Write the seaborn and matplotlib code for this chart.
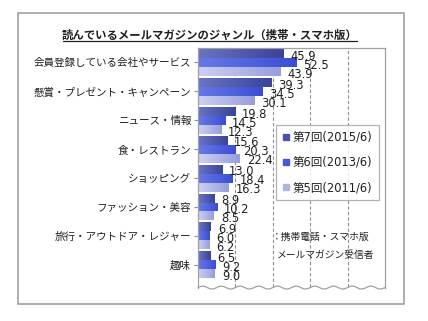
import numpy as np
import pandas as pd
import matplotlib
matplotlib.use("Agg")
import matplotlib.pyplot as plt
import seaborn as sns
from matplotlib.patches import Rectangle
from matplotlib.lines import Line2D
from matplotlib.colors import LinearSegmentedColormap

genres = ["会員登録している会社やサービス", "懸賞・プレゼント・キャンペーン", "ニュース・情報",
          "食・レストラン", "ショッピング", "ファッション・美容", "旅行・アウトドア・レジャー", "趣味"]
waves = ["第7回(2015/6)", "第6回(2013/6)", "第5回(2011/6)"]
v2015 = [45.9, 39.3, 19.8, 15.6, 13.0, 8.9, 6.9, 6.5]
v2013 = [52.5, 34.5, 14.5, 20.3, 18.4, 10.2, 6.0, 9.2]
v2011 = [43.9, 30.1, 12.3, 22.4, 16.3, 8.5, 6.2, 9.0]

title = "読んでいるメールマガジンのジャンル（携帯・スマホ版）"
note1 = "：携帯電話・スマホ版"
note2 = "メールマガジン受信者"

colors = ["#4a54a8", "#4659d8", "#aeb4e4"]
grad = [("#6a74c4", "#3a4498"), ("#6878e6", "#3a4ed6"), ("#cdd1f2", "#979edb")]

df = pd.DataFrame({
    "genre": genres * 3,
    "wave": [waves[0]] * 8 + [waves[1]] * 8 + [waves[2]] * 8,
    "value": v2015 + v2013 + v2011,
})

sns.set_style("white")
plt.rcParams["font.family"] = ["DejaVu Sans", "Noto Sans CJK JP"]

fig = plt.figure(figsize=(4.28, 3.21), dpi=100)
ax = fig.add_axes([0.4626, 0.0966, 0.4369, 0.7539])

sns.barplot(data=df, y="genre", x="value", hue="wave", order=genres, hue_order=waves,
            palette=colors, orient="h", width=0.93, ax=ax, legend=False,
            edgecolor="none", linewidth=0)

ax.set_xlim(0, 100)
ax.set_ylim(7.87, -0.5)

# gradient fill of the bars
for cont, (c0, c1) in zip(ax.containers, grad):
    cmap = LinearSegmentedColormap.from_list("g", [c0, c1])
    for p in cont:
        x0, y0 = p.get_x(), p.get_y()
        w, h = p.get_width(), p.get_height()
        im = ax.imshow(np.linspace(0, 1, 64).reshape(1, -1), cmap=cmap, aspect="auto",
                       extent=(x0, x0 + w, y0 + h, y0), zorder=p.get_zorder(),
                       interpolation="bilinear")
        im.set_clip_path(p)
ax.set_xlim(0, 100)
ax.set_ylim(7.87, -0.5)

# data labels
for cont in ax.containers:
    for p in cont:
        val = p.get_width()
        ax.annotate(f"{val:.1f}", (val, p.get_y() + p.get_height() / 2),
                    xytext=(5, -2), textcoords="offset points", ha="left", va="center",
                    fontsize=8.3, color="#202020", family="DejaVu Sans", zorder=5)

# grid lines
for gx in [20, 40, 60, 80]:
    ax.axvline(gx, ymin=0.012, ymax=1, color="#909090", lw=0.8, ls=(0, (3, 2)), zorder=0)

# wavy bottom
xs = np.linspace(0, 100, 800)
ys = 0.010 + 0.006 * np.sin(2 * np.pi * xs / 10.0)
ax.plot(xs, ys, color="#a0a0a0", lw=0.9, transform=ax.get_xaxis_transform(), clip_on=False)

for s in ["bottom"]:
    ax.spines[s].set_visible(False)
for s in ["left", "top", "right"]:
    ax.spines[s].set_color("#a0a0a0")
    ax.spines[s].set_linewidth(0.9)
ax.spines["left"].set_bounds(7.87 - 0.01 * 8.37, -0.5)
ax.spines["right"].set_bounds(7.87 - 0.01 * 8.37, -0.5)

ax.set_xlabel("")
ax.set_ylabel("")
ax.set_xticks([])
ax.tick_params(axis="y", left=True, length=3, color="#909090", labelsize=7.6, pad=2,
               labelcolor="#202020")
for lab in ax.get_yticklabels():
    lab.set_family(["Noto Sans CJK JP", "DejaVu Sans"])

# legend
handles = [Line2D([], [], marker="s", ls="none", markersize=5, markerfacecolor=c,
                  markeredgecolor=c) for c in colors]
leg = fig.legend(handles, waves, loc="upper left", bbox_to_anchor=(0.645, 0.612),
                 frameon=True, fancybox=False, fontsize=8.3, handlelength=0.6,
                 handletextpad=0.3, labelspacing=1.05, borderpad=0.55, borderaxespad=0)
leg.get_frame().set_edgecolor("#a0a0a0")
leg.get_frame().set_linewidth(0.9)
for t in leg.get_texts():
    t.set_color("#202020")

# notes
fig.text(0.636, 0.262, note1, fontsize=7.0, ha="left", va="center", color="#202020",
         family=["Noto Sans CJK JP", "DejaVu Sans"])
fig.text(0.647, 0.206, note2, fontsize=7.0, ha="left", va="center", color="#202020",
         family=["Noto Sans CJK JP", "DejaVu Sans"])

# title with underline
fig.text(0.49, 0.891, title, fontsize=8.2, fontweight="bold", ha="center", va="center",
         color="#202020", family=["Noto Sans CJK JP", "DejaVu Sans"])
fig.add_artist(Line2D([0.147, 0.834], [0.872, 0.872], transform=fig.transFigure,
                      color="#202020", lw=0.9))

# outer frame
fig.add_artist(Rectangle((0.042, 0.053), 0.902, 0.9065, transform=fig.transFigure,
                         fill=False, edgecolor="#a0a0a0", lw=1.2))

fig.savefig("out.png", dpi=100, facecolor="white")
